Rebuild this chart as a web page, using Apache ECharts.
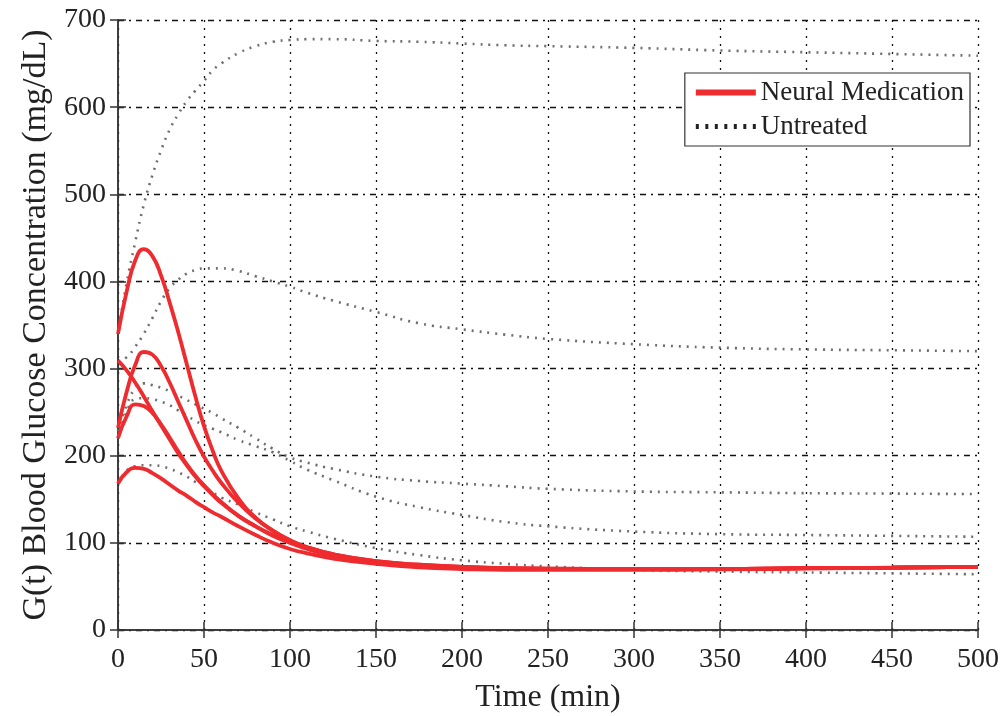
<!DOCTYPE html>
<html>
<head>
<meta charset="utf-8">
<script src="https://cdn.jsdelivr.net/npm/echarts@6/dist/echarts.min.js"></script>
<style>
html,body{margin:0;padding:0;background:#fff;}
#chart{width:1003px;height:716px;}
</style>
</head>
<body>
<div id="chart"></div>
<script>
// Time grid (min)
const times = [0,5,10,15,20,25,30,35,40,45,50,55,60,70,80,90,100,110,125,150,175,200,225,250,300,350,400,450,500];

// Neural Medication (red, solid)
const med1 = [340,388,424,437,429,407,376,342,305,268,234,206,183,151,129,114,103,95,87,79,75,72.5,71,70.5,70,70,71,71.5,72.5];
const med2 = [232,273,304,319,316,303,284,262,240,218,199,183,169,146,128,114,103,95,87,79,75,72.5,71,70.5,70,70,71,71.5,72.5];
const med3 = [309,298,284,268,251,235,219,203,189,176,165,155,146,131,119,109,101,94,86,78,74,72,71,70,70,70,71,71.5,72.5];
const med4 = [220,245,259,257,249,236,221,205,190,177,166,156,147,131,119,108,100,93,85,77,73,71,70.5,70,70,70,71,71.5,72.5];
const med5 = [168,181,186,185,180,174,167,160,154,147,141,135,130,119,109,100,93,88,82,76,72,70,69,69,69,69.5,70.5,71.5,72.5];

// Untreated (gray, dotted)
const untr1 = [340,398,445,488,522,550,574,592,607,619,630,642,650,662,670,675,677,678,678,676,675,673,671,670,668,665,663,661,659];
const untr2 = [308,313,325,340,358,377,392,402,409,413,415,415,415,412,406,400,394,387,378,365,352,345,339,334,328,324,322,321,320];
const untr3 = [228,258,277,283,281,278,274,269,264,259,254,249,243,232,220,208,198,192,185,176,171,168,165,162,159,158,157,156.5,156];
const untr4 = [220,250,265,266,265,262,258,252,246,240,235,231,227,218,211,204,194,184,172,153,141,132,124,119,113,110,109,108,107];
const untr5 = [168,183,188,189,189,188,185,181,176,170,165,158,152,144,135,127,119,113,105,94,86,80,76,73,69,67,66,65,64];

const xTicks = [0,50,100,150,200,250,300,350,400,450,500];
const yTicks = [0,100,200,300,400,500,600,700];

const MED = 'Neural Medication', UNT = 'Untreated';
const RED = '#ee2b2e';
const GRAY = '#6e6e6e';
const FONT = 'Liberation Serif';

function pairs(vals){ return times.map((t,i)=>[t, vals[i]]); }

const untreated = [untr1,untr2,untr3,untr4,untr5].map(v=>({
  name: UNT, type:'line', data: pairs(v), smooth: 0.5, symbol:'none', z:2,
  lineStyle:{color:GRAY, width:2.6, type:[2,6], cap:'butt'}, itemStyle:{color:'#222'}
}));
const medicated = [med1,med2,med3,med4,med5].map(v=>({
  name: MED, type:'line', data: pairs(v), smooth: 0.5, symbol:'none', z:3,
  lineStyle:{color:RED, width:3.8}, itemStyle:{color:RED}
}));

// dotted legend sample: 7 small squares across 60 units
const dotIcon = 'path://M0,0h3v5h-3z M9.5,0h3v5h-3z M19,0h3v5h-3z M28.5,0h3v5h-3z M38,0h3v5h-3z M47.5,0h3v5h-3z M57,0h3v5h-3z';

const axisBase = {
  type:'value', axisLine:{show:true, lineStyle:{color:'#333', width:1.5}},
  axisTick:{show:true, inside:true, length:8, lineStyle:{color:'#333', width:1.5}}
};

const chart = echarts.init(document.getElementById('chart'), null, {renderer:'canvas'});
chart.setOption({
  backgroundColor:'#fff',
  animation:false,
  grid:{left:118, right:25, top:20, bottom:86, containLabel:false, outerBoundsMode:'none'},
  legend:{
    data:[
      {name:MED, icon:'path://M0,0 L60,0 L60,6 L0,6 Z', itemStyle:{color:RED}},
      {name:UNT, icon:dotIcon, itemStyle:{color:'#222'}}
    ],
    orient:'vertical', right:33, top:73,
    backgroundColor:'#fff', borderColor:'#333', borderWidth:1.2,
    padding:[6,6,6,11], itemGap:7, itemWidth:60, itemHeight:6,
    textStyle:{fontFamily:FONT, fontSize:27, color:'#222'},
    zlevel:5
  },
  xAxis:[
    Object.assign({}, axisBase, {
      min:0, max:500, interval:50, position:'bottom',
      name:'Time (min)', nameLocation:'middle', nameGap:52,
      nameTextStyle:{fontFamily:FONT, fontSize:32, color:'#222'},
      axisLabel:{fontFamily:FONT, fontSize:28, color:'#222', margin:16,
        formatter:(v)=> xTicks.includes(v) ? String(v) : ''},
      splitLine:{show:true, lineStyle:{color:'#111', width:1.3, type:[2,6]}}
    }),
    Object.assign({}, axisBase, {
      min:0, max:500, interval:50, position:'top',
      axisLabel:{show:false}, splitLine:{show:false}
    })
  ],
  yAxis:[
    Object.assign({}, axisBase, {
      min:0, max:700, interval:100, position:'left',
      name:'G(t) Blood Glucose Concentration (mg/dL)', nameLocation:'middle', nameGap:63,
      nameTextStyle:{fontFamily:FONT, fontSize:34, color:'#222'},
      axisLabel:{fontFamily:FONT, fontSize:28, color:'#222', margin:12,
        formatter:(v)=> yTicks.includes(v) ? String(v) : ''},
      splitLine:{show:true, lineStyle:{color:'#111', width:1.3, type:[6,5,2,5]}}
    }),
    Object.assign({}, axisBase, {
      min:0, max:700, interval:100, position:'right',
      axisLabel:{show:false}, splitLine:{show:false}
    })
  ],
  series: untreated.concat(medicated)
});
</script>
</body>
</html>
